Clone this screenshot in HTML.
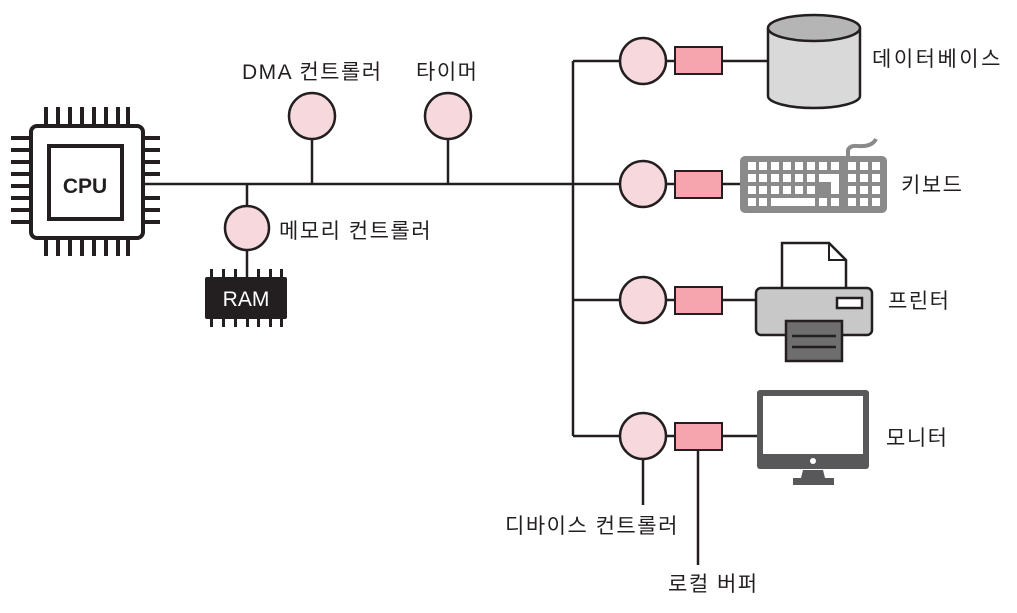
<!DOCTYPE html>
<html><head><meta charset="utf-8"><style>
html,body{margin:0;padding:0;background:#fff;}
svg{display:block}
text{font-family:"Liberation Sans","Noto Sans CJK KR","NanumGothic",sans-serif;fill:#231f20;font-size:21px;letter-spacing:1.5px}
</style></head><body>
<svg width="1017" height="613" viewBox="0 0 1017 613" xmlns="http://www.w3.org/2000/svg">
<g stroke="#231f20" stroke-width="2.5" fill="none">
<line x1="145" y1="184" x2="573" y2="184"/>
<line x1="573" y1="61" x2="573" y2="436"/>
<line x1="247" y1="184" x2="247" y2="300"/>
<line x1="312" y1="116" x2="312" y2="184"/>
<line x1="448" y1="116" x2="448" y2="184"/>
<line x1="573" y1="61" x2="770" y2="61"/>
<line x1="573" y1="184" x2="745" y2="184"/>
<line x1="573" y1="300" x2="758" y2="300"/>
<line x1="573" y1="436" x2="760" y2="436"/>
<line x1="643" y1="436" x2="643" y2="505"/>
<line x1="698" y1="436" x2="698" y2="565"/>
</g>
<g fill="#231f20">
<rect x="44" y="107" width="4" height="20"/><rect x="56" y="107" width="4" height="20"/><rect x="68" y="107" width="4" height="20"/><rect x="80" y="107" width="4" height="20"/><rect x="92" y="107" width="4" height="20"/><rect x="104" y="107" width="4" height="20"/><rect x="116" y="107" width="4" height="20"/><rect x="126" y="107" width="4" height="20"/>
<g transform="translate(0,129)">
<rect x="44" y="107" width="4" height="20"/><rect x="56" y="107" width="4" height="20"/><rect x="68" y="107" width="4" height="20"/><rect x="80" y="107" width="4" height="20"/><rect x="92" y="107" width="4" height="20"/><rect x="104" y="107" width="4" height="20"/><rect x="116" y="107" width="4" height="20"/><rect x="126" y="107" width="4" height="20"/>
</g>
<rect x="11" y="136" width="20" height="4"/><rect x="11" y="148" width="20" height="4"/><rect x="11" y="160" width="20" height="4"/><rect x="11" y="172" width="20" height="4"/><rect x="11" y="184" width="20" height="4"/><rect x="11" y="196" width="20" height="4"/><rect x="11" y="208" width="20" height="4"/><rect x="11" y="220" width="20" height="4"/>
<rect x="142" y="136" width="18" height="4"/><rect x="142" y="148" width="18" height="4"/><rect x="142" y="160" width="18" height="4"/><rect x="142" y="172" width="18" height="4"/><rect x="142" y="196" width="18" height="4"/><rect x="142" y="208" width="18" height="4"/><rect x="142" y="220" width="18" height="4"/>
</g>
<rect x="31" y="126" width="112" height="112" rx="6" fill="#fff" stroke="#231f20" stroke-width="4"/>
<rect x="49" y="146" width="73" height="73" fill="#fff" stroke="#231f20" stroke-width="4"/>
<text x="85" y="193" text-anchor="middle" font-size="24" font-weight="bold" style="letter-spacing:0">CPU</text>
<g fill="#231f20">
<rect x="210" y="269" width="3" height="8"/><rect x="222" y="269" width="3" height="8"/><rect x="234" y="269" width="3" height="8"/><rect x="257" y="269" width="3" height="8"/><rect x="269" y="269" width="3" height="8"/><rect x="280" y="269" width="3" height="8"/>
<rect x="210" y="318" width="3" height="9"/><rect x="222" y="318" width="3" height="9"/><rect x="234" y="318" width="3" height="9"/><rect x="246" y="318" width="3" height="9"/><rect x="257" y="318" width="3" height="9"/><rect x="269" y="318" width="3" height="9"/><rect x="280" y="318" width="3" height="9"/>
<rect x="205" y="277" width="82" height="42" rx="2"/>
</g>
<text x="246" y="306" text-anchor="middle" font-size="20" style="fill:#fff;letter-spacing:0">RAM</text>
<g fill="#f7d9dd" stroke="#231f20" stroke-width="2.5">
<circle cx="312" cy="116" r="23"/>
<circle cx="448" cy="116" r="23"/>
<circle cx="247" cy="228" r="22"/>
<circle cx="643" cy="61" r="23"/>
<circle cx="643" cy="184" r="23"/>
<circle cx="643" cy="300" r="23"/>
<circle cx="643" cy="436" r="23"/>
</g>
<g fill="#f6a5ae" stroke="#231f20" stroke-width="2">
<rect x="675" y="47" width="47" height="27"/>
<rect x="675" y="171" width="47" height="27"/>
<rect x="675" y="287" width="47" height="27"/>
<rect x="675" y="423" width="47" height="27"/>
</g>
<path d="M768 28 L768 96 A46 12 0 0 0 860 96 L860 28" fill="#d9d9d9" stroke="#231f20" stroke-width="2.5"/>
<ellipse cx="814" cy="28" rx="46" ry="13" fill="#b5b5b5" stroke="#231f20" stroke-width="2.5"/>
<path d="M848 158 L848 150 Q850 145 858 146 Q872 147 876 139" stroke="#8a8a8a" stroke-width="4" fill="none"/>
<rect x="740" y="156" width="147" height="57" rx="5" fill="#8a8a8a"/>
<g fill="#fff">
<rect x="748" y="162" width="8" height="8"/><rect x="759" y="162" width="8" height="8"/><rect x="771" y="162" width="8" height="8"/><rect x="783" y="162" width="8" height="8"/><rect x="795" y="162" width="8" height="8"/><rect x="807" y="162" width="8" height="8"/><rect x="819" y="162" width="8" height="8"/><rect x="831" y="162" width="8" height="8"/><rect x="848" y="162" width="8" height="8"/><rect x="860" y="162" width="8" height="8"/><rect x="872" y="162" width="8" height="8"/>
<rect x="748" y="174" width="8" height="8"/><rect x="759" y="174" width="8" height="8"/><rect x="771" y="174" width="8" height="8"/><rect x="783" y="174" width="8" height="8"/><rect x="795" y="174" width="8" height="8"/><rect x="807" y="174" width="8" height="8"/><rect x="819" y="174" width="20" height="8"/><rect x="848" y="174" width="8" height="8"/><rect x="860" y="174" width="8" height="8"/><rect x="872" y="174" width="8" height="8"/>
<rect x="748" y="186" width="8" height="8"/><rect x="759" y="186" width="8" height="8"/><rect x="771" y="186" width="8" height="8"/><rect x="783" y="186" width="8" height="8"/><rect x="795" y="186" width="8" height="8"/><rect x="807" y="186" width="8" height="8"/><rect x="831" y="182" width="8" height="12"/><rect x="848" y="186" width="8" height="8"/><rect x="860" y="186" width="8" height="8"/><rect x="872" y="186" width="8" height="8"/>
<rect x="748" y="198" width="8" height="8"/><rect x="759" y="198" width="8" height="8"/><rect x="771" y="198" width="44" height="8"/><rect x="819" y="198" width="8" height="8"/><rect x="831" y="198" width="8" height="8"/><rect x="848" y="198" width="8" height="8"/><rect x="860" y="198" width="8" height="8"/><rect x="872" y="198" width="8" height="8"/>
</g>
<path d="M782 288 L782 243 L829 243 L846 260 L846 288" fill="#fff" stroke="#231f20" stroke-width="2.5"/>
<path d="M829 243 L829 260 L846 260" fill="none" stroke="#231f20" stroke-width="2"/>
<rect x="756" y="288" width="116" height="47" rx="5" fill="#c8c8c8" stroke="#231f20" stroke-width="2.5"/>
<rect x="837" y="298" width="25" height="10" fill="#fff" stroke="#231f20" stroke-width="2.5"/>
<rect x="786" y="321" width="56" height="40" fill="#6e6e6e" stroke="#231f20" stroke-width="2.5"/>
<line x1="792" y1="336" x2="836" y2="336" stroke="#231f20" stroke-width="2.5"/>
<line x1="792" y1="347" x2="836" y2="347" stroke="#231f20" stroke-width="2.5"/>
<rect x="757" y="390" width="112" height="79" rx="3" fill="#58585a"/>
<rect x="763" y="396" width="100" height="58" fill="#fff"/>
<circle cx="813" cy="461" r="3" fill="#fff"/>
<path d="M803 470 L823 470 L825 478 L834 478 L834 485 L793 485 L793 478 L801 478 Z" fill="#58585a"/>
<text x="242" y="79">DMA 컨트롤러</text>
<text x="416" y="79">타이머</text>
<text x="279" y="238">메모리 컨트롤러</text>
<text x="872" y="66" style="letter-spacing:2.5px">데이터베이스</text>
<text x="901" y="192">키보드</text>
<text x="888" y="308">프린터</text>
<text x="886" y="445">모니터</text>
<text x="505" y="533">디바이스 컨트롤러</text>
<text x="668" y="591">로컬 버퍼</text>
</svg>
</body></html>
